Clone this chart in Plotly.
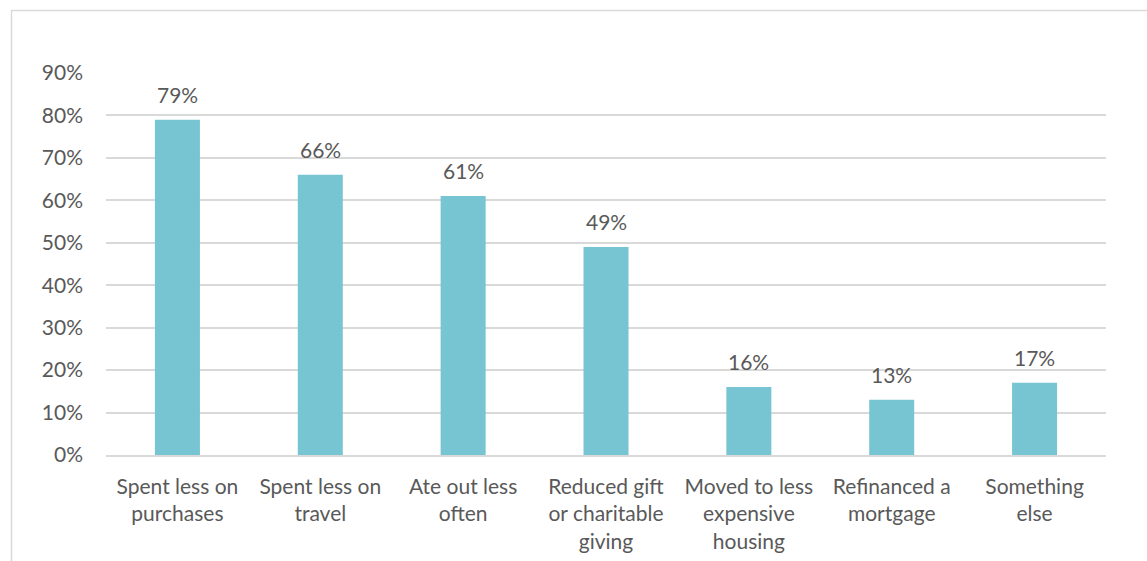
import plotly.graph_objects as go

categories = [
    "Spent less on<br>purchases",
    "Spent less on<br>travel",
    "Ate out less<br>often",
    "Reduced gift<br>or charitable<br>giving",
    "Moved to less<br>expensive<br>housing",
    "Refinanced a<br>mortgage",
    "Something<br>else",
]
values = [79, 66, 61, 49, 16, 13, 17]
y_ticks = [0, 10, 20, 30, 40, 50, 60, 70, 80, 90]

W, H = 1147, 561
L, R, T, B = 106, 41, 73, 106
pw, ph = W - L - R, H - T - B

text_color = "#595959"
font_family = "Lato, 'Open Sans', sans-serif"
font_size = 21

fig = go.Figure(
    go.Bar(
        x=categories,
        y=values,
        marker=dict(color="#77C4D3", line=dict(width=0)),
        cliponaxis=False,
        hoverinfo="skip",
    )
)

# Value labels sitting above each bar
for cat, v in zip(categories, values):
    fig.add_annotation(
        x=cat,
        y=v,
        text=f"{v}%",
        showarrow=False,
        yanchor="bottom",
        yshift=11,
        font=dict(size=font_size, color=text_color, family=font_family),
    )

fig.update_layout(
    width=W,
    height=H,
    margin=dict(l=L, r=R, t=T, b=B, autoexpand=False),
    paper_bgcolor="white",
    plot_bgcolor="white",
    bargap=0.685,
    showlegend=False,
    font=dict(family=font_family, size=font_size, color=text_color),
)

fig.update_yaxes(
    range=[0, 90],
    tickvals=y_ticks,
    ticktext=[f"{v}%" for v in y_ticks],
    showgrid=True,
    gridcolor="#D9D9D9",
    gridwidth=1.5,
    zeroline=False,
    showline=False,
    ticks="",
    ticklabelstandoff=22,
    tickfont=dict(size=font_size, color=text_color),
)

fig.update_xaxes(
    showgrid=False,
    showline=True,
    linecolor="#D9D9D9",
    linewidth=1.5,
    ticks="",
    ticklabelstandoff=12,
    tickfont=dict(size=font_size, color=text_color),
)

# Chart frame: a light border running past the right and bottom edges
fig.add_shape(
    type="rect",
    xref="paper",
    yref="paper",
    x0=(11.5 - L) / pw,
    x1=(W + 10 - L) / pw,
    y0=(H - B - (H + 20)) / ph,
    y1=(H - B - 10.5) / ph,
    line=dict(color="#D9D9D9", width=1.5),
    fillcolor="rgba(0,0,0,0)",
    layer="below",
)

fig.write_html("out.html")
